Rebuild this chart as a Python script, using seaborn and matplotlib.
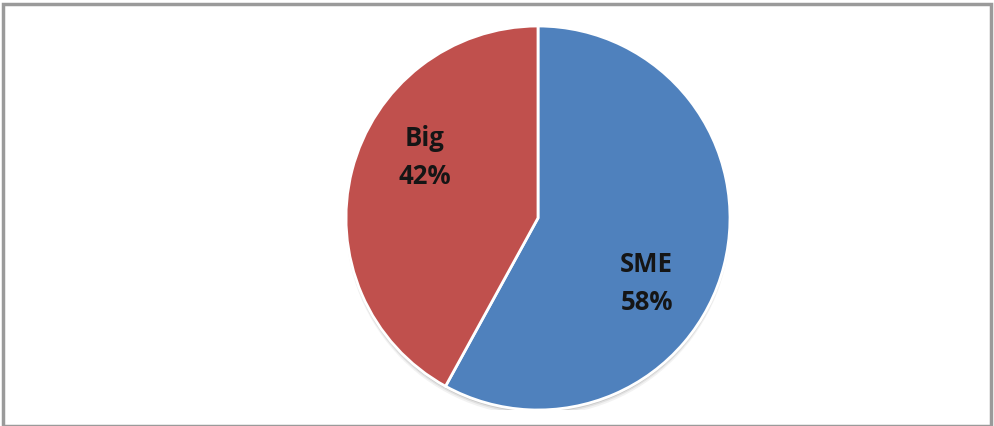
import matplotlib
matplotlib.use("Agg")
import matplotlib.pyplot as plt
from matplotlib.patches import Rectangle, Circle
import numpy as np
import seaborn as sns

# Share of companies by size
categories = ["SME", "Big"]
shares = [58, 42]
colors = ["#4F81BD", "#C0504D"]
# label placement (angle in degrees, fraction of radius) for each slice
label_angles = [-31, 152]
label_radius = [0.66, 0.67]

sns.set_theme(style="white")
plt.rcParams["font.family"] = ["Open Sans", "DejaVu Sans"]

W, H = 994, 426
fig = plt.figure(figsize=(W / 100, H / 100), dpi=100)
fig.patch.set_facecolor("white")

# pie placed in pixel terms: centre (538, 208 from bottom), radius 192
cx, cy, r = 538, 208, 192
ax = fig.add_axes([(cx - r) / W, (cy - r) / H, 2 * r / W, 2 * r / H])
ax.set_xlim(-1, 1)
ax.set_ylim(-1, 1)
ax.set_aspect("equal")
ax.axis("off")

# soft shadow under the disc
for off, a in [(0.030, 0.10), (0.020, 0.15), (0.012, 0.25)]:
    ax.add_patch(Circle((0, -off), 1.0, color="#808080", alpha=a, zorder=0, lw=0))

wedges, _ = ax.pie(
    shares,
    colors=colors,
    startangle=90,
    counterclock=False,
    radius=1.0,
    wedgeprops=dict(edgecolor="white", linewidth=2),
)
for w in wedges:
    w.set_zorder(2)
ax.set_xlim(-1, 1)
ax.set_ylim(-1, 1)

for name, val, ang, rad in zip(categories, shares, label_angles, label_radius):
    t = np.deg2rad(ang)
    ax.text(rad * np.cos(t), rad * np.sin(t), f"{name}\n{val}%",
            ha="center", va="center", fontsize=18.5, fontweight="bold",
            color="#151515", linespacing=1.5, zorder=3)

# outer frame
fig.patches.append(Rectangle((3 / W, 0), (W - 6) / W, (H - 4) / H,
                             transform=fig.transFigure, fill=False,
                             edgecolor="#9a9a9a", linewidth=2.5, zorder=10))

fig.savefig("out.png", dpi=100, facecolor="white")
